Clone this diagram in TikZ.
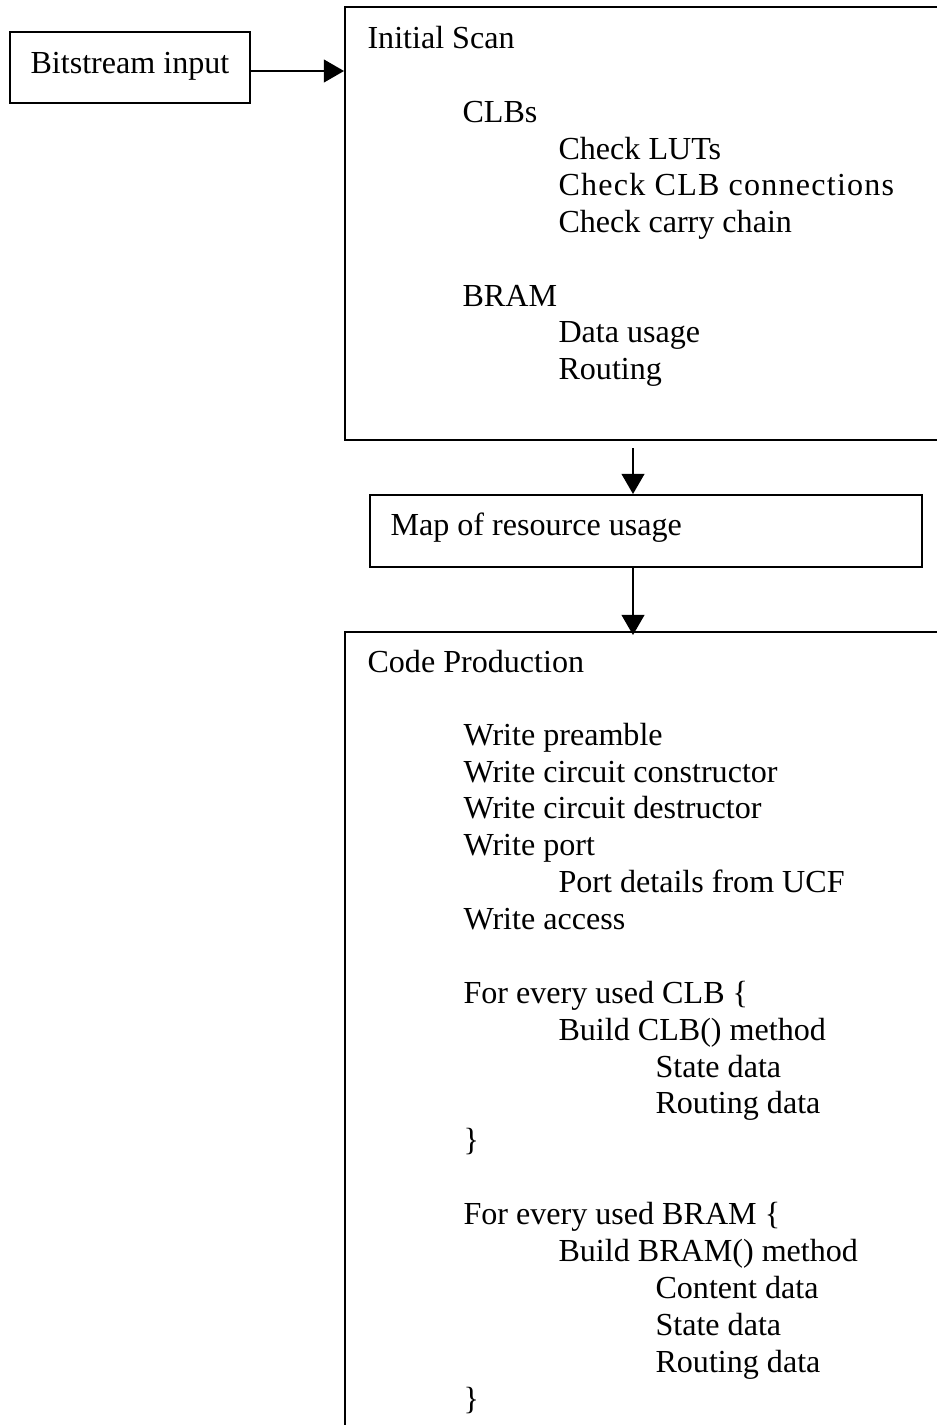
\documentclass[tikz,border=0pt]{standalone}
\usepackage{fontspec}
\setmainfont{Liberation Serif}
\usetikzlibrary{arrows.meta,fit,calc}
\tikzset{
  box/.style={draw, line width=0.75pt, inner sep=0pt, fill=none},
  txt/.style={anchor=base west, inner sep=0pt, font=\fontsize{12}{13.8}\selectfont},
  arr/.style={line width=0.6pt, -{Triangle[length=7.5pt,width=8.5pt]}}
}
\begin{document}
\begin{tikzpicture}[x=0.374pt, y=-0.374pt]
\path[use as bounding box, clip] (0,0) rectangle (937,1425);
\fill[white] (0,0) rectangle (937,1425);
% boxes
\node[box, fit={(10,32) (250,103)}] (bit) {};
\node[box, fit={(345,7) (960,440)}] (scan) {};
\node[box, fit={(370,495) (922,567)}] (map) {};
\node[box, fit={(345,632) (960,1460)}] (code) {};
% connectors
\draw[arr] (bit.east |- 0,71) -- (scan.west |- 0,71);
\draw[arr] ($(scan.south -| 633,0)+(0,7)$) -- (map.north -| 633,0);
\draw[arr, shorten >=-1.5pt] (map.south -| 633,0) -- (code.north -| 633,0);
% texts
\node[txt] (tb) at (30,73) {Bitstream input};
\node[txt] (s0) at (367,48) {Initial Scan};
\node[txt] (s1) at (462,122) {CLBs};
\node[txt] (s2) at (558,159) {Check LUTs};
\node[txt] (s3) at (558,195) {\addfontfeature{LetterSpace=3.8}Check CLB connections};
\node[txt] (s4) at (558,232) {Check carry chain};
\node[txt] (s5) at (462,306) {BRAM};
\node[txt] (s6) at (558,342) {Data usage};
\node[txt] (s7) at (558,379) {Routing};
\node[txt] (m0) at (390,535) {Map of resource usage};
\node[txt] (c0) at (367,672) {Code Production};
\node[txt] (c1) at (463,745) {Write preamble};
\node[txt] (c2) at (463,782) {Write circuit constructor};
\node[txt] (c3) at (463,818) {Write circuit destructor};
\node[txt] (c4) at (463,855) {Write port};
\node[txt] (c5) at (558,892) {Port details from UCF};
\node[txt] (c6) at (463,929) {Write access};
\node[txt] (c7) at (463,1003) {For every used CLB \{};
\node[txt] (c8) at (558,1040) {Build CLB() method};
\node[txt] (c9) at (655,1077) {State data};
\node[txt] (c10) at (655,1113) {Routing data};
\node[txt] (c11) at (463,1150) {\}};
\node[txt] (c12) at (463,1224) {For every used BRAM \{};
\node[txt] (c13) at (558,1261) {Build BRAM() method};
\node[txt] (c14) at (655,1298) {Content data};
\node[txt] (c15) at (655,1335) {State data};
\node[txt] (c16) at (655,1372) {Routing data};
\node[txt] (c17) at (463,1409) {\}};
\end{tikzpicture}
\end{document}
